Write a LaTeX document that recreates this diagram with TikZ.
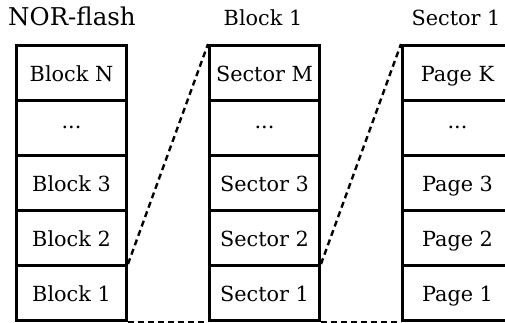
\documentclass[tikz,border=0pt]{standalone}
\usepackage{fontspec}
\setmainfont{DejaVu Serif}
\begin{document}
\begin{tikzpicture}[x=1pt,y=-1pt,
  cell/.style={draw, line width=3pt, minimum width=110pt, minimum height=55pt,
    inner sep=0pt, text height=17pt, text depth=0pt,
    font=\fontsize{20.8}{24}\selectfont, anchor=north west},
  dotcell/.style={cell, text height=8.5pt, text depth=8.5pt},
  title/.style={font=\fontsize{20.8}{24}\selectfont, inner sep=0pt, anchor=base},
  bigtitle/.style={font=\fontsize{24.5}{28}\selectfont, inner sep=0pt, anchor=base},
  link/.style={line width=2.4pt, dash pattern=on 6pt off 4pt}]
\useasboundingbox (0,0) rectangle (505,322);
% NOR-flash column
\node[cell] (bn) at (15,44) {Block N};
\node[dotcell] (bd) at (15,99) {...};
\node[cell] (b3) at (15,154) {Block 3};
\node[cell] (b2) at (15,209) {Block 2};
\node[cell] (b1) at (15,264) {Block 1};
% Block 1 column
\node[cell] (sm) at (208,44) {Sector M};
\node[dotcell] (sd) at (208,99) {...};
\node[cell] (s3) at (208,154) {Sector 3};
\node[cell] (s2) at (208,209) {Sector 2};
\node[cell] (s1) at (208,264) {Sector 1};
% Sector 1 column
\node[cell] (pk) at (401,44) {Page K};
\node[dotcell] (pd) at (401,99) {...};
\node[cell] (p3) at (401,154) {Page 3};
\node[cell] (p2) at (401,209) {Page 2};
\node[cell] (p1) at (401,264) {Page 1};
% column titles
\node[bigtitle] (t1) at (72,25) {NOR-flash};
\node[title] (t2) at (263,25) {Block 1};
\node[title] (t3) at (456,25) {Sector 1};
% zoom links
\draw[link] (b1.north east) -- (sm.north west);
\draw[link] (b1.south east) -- (s1.south west);
\draw[link] (s1.north east) -- (pk.north west);
\draw[link] (s1.south east) -- (p1.south west);
\end{tikzpicture}
\end{document}
